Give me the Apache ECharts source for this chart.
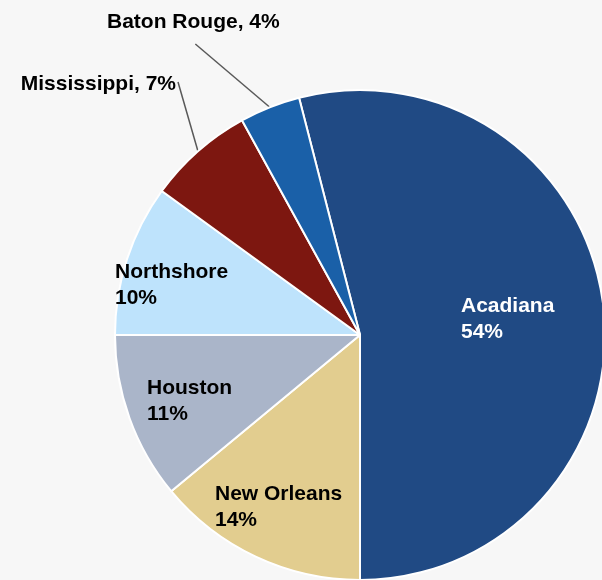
<!DOCTYPE html>
<html>
<head>
<meta charset="utf-8">
<title>Regional mix</title>
<script src="https://cdn.jsdelivr.net/npm/echarts@6/dist/echarts.min.js"></script>
<style>
  html, body { margin: 0; padding: 0; background: #f7f7f7; }
  #chart { width: 602px; height: 580px; }
</style>
</head>
<body>
<div id="chart"></div>
<script>
// Share of total by region (percent)
const regions = ['Acadiana', 'New Orleans', 'Houston', 'Northshore', 'Mississippi', 'Baton Rouge'];
const shares = [54, 14, 11, 10, 7, 4];
const sliceColors = ['#204a84', '#e2cd8f', '#aab5c9', '#bee3fc', '#7d1710', '#1a60a8'];

// Label placement: [x, y, align, text colour]
const labelSpots = {
  'Acadiana':    [461, 319, 'left', '#ffffff'],
  'New Orleans': [215, 507, 'left', '#000000'],
  'Houston':     [147, 401, 'left', '#000000'],
  'Northshore':  [115, 285, 'left', '#000000'],
  'Mississippi': [176, 84, 'right', '#000000'],
  'Baton Rouge': [107, 22, 'left', '#000000']
};
const calloutRegions = ['Mississippi', 'Baton Rouge'];

const total = shares.reduce((a, b) => a + b, 0);
// Largest slice runs clockwise and ends straight down
const startAngle = 90 + (shares[0] / total * 360 - 180);

const data = regions.map((name, i) => {
  const callout = calloutRegions.includes(name);
  return {
    name: name,
    value: shares[i],
    itemStyle: { color: sliceColors[i] },
    label: {
      color: labelSpots[name][3],
      formatter: callout ? '{b}, {c}%' : '{b}\n{c}%'
    },
    labelLine: { show: callout }
  };
});

const chart = echarts.init(document.getElementById('chart'), null, { renderer: 'canvas' });
chart.setOption({
  backgroundColor: '#f7f7f7',
  animation: false,
  series: [{
    type: 'pie',
    center: [360, 335],
    radius: 245,
    startAngle: startAngle,
    clockwise: true,
    avoidLabelOverlap: false,
    itemStyle: { borderColor: '#ffffff', borderWidth: 2 },
    label: {
      show: true,
      position: 'outside',
      fontFamily: 'Arial, "Liberation Sans", sans-serif',
      fontWeight: 'bold',
      fontSize: 21,
      lineHeight: 26
    },
    labelLine: {
      show: true,
      length: 10,
      length2: 0,
      lineStyle: { color: '#595959', width: 1.5 }
    },
    labelLayout: function (params) {
      const name = regions[params.dataIndex];
      const spot = labelSpots[name];
      const out = { x: spot[0], y: spot[1], align: spot[2], verticalAlign: 'middle', hideOverlap: false, moveOverlap: false };
      if (calloutRegions.includes(name) && params.labelLinePoints) {
        const w = params.labelRect.width, h = params.labelRect.height;
        const anchor = params.labelLinePoints[0];
        let from;
        if (spot[2] === 'right') {
          from = [spot[0] + 2, spot[1] - 2];
        } else {
          from = [spot[0] + w / 2 + 2, spot[1] + h / 2 + 9];
        }
        out.labelLinePoints = [from, anchor];
      }
      return out;
    },
    data: data
  }]
});
</script>
</body>
</html>
